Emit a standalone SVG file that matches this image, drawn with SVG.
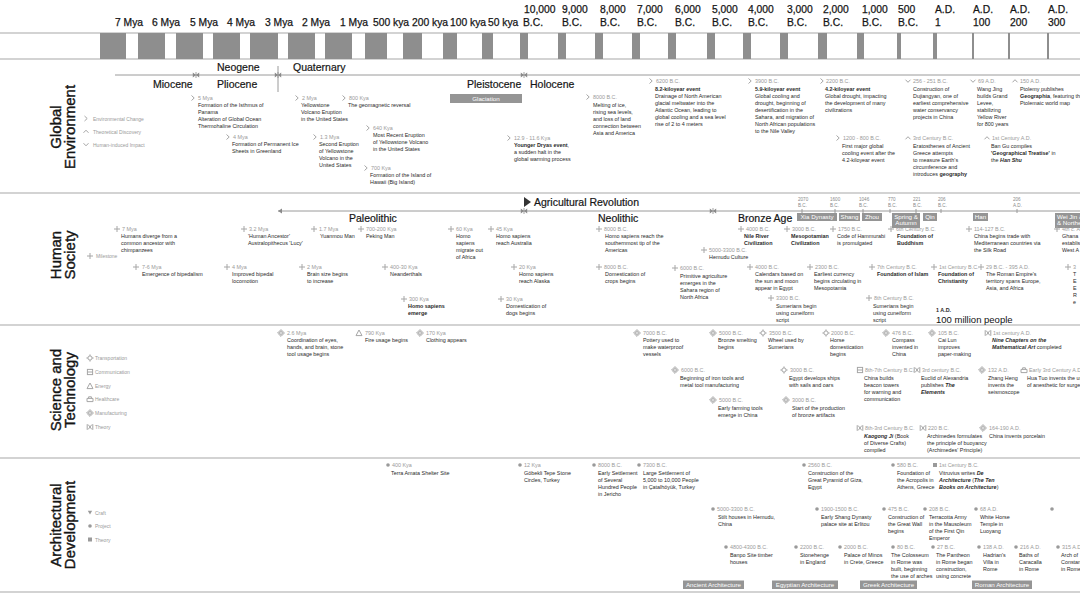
<svg xmlns="http://www.w3.org/2000/svg" xmlns:xlink="http://www.w3.org/1999/xlink" width="1080" height="608" viewBox="0 0 1080 608">
<style>
text{font-family:"Liberation Sans",Arial,sans-serif}
.tk{font-size:10.3px;fill:#151515;stroke:#151515;stroke-width:0.25}
.per{font-size:10.5px;fill:#151515;stroke:#151515;stroke-width:0.2}
.sec{font-size:15px;fill:#151515;stroke:#151515;stroke-width:0.4}
.lg{font-size:5px;fill:#9a9a9a}
.d{font-size:5.4px;fill:#9a9a9a}
.t{font-size:5.4px;fill:#2a2a2a}
.b{font-weight:bold}
.bi{font-weight:bold;font-style:italic}
.div{stroke:#c4c4c4;stroke-width:1.4}
.ln{stroke:#9a9a9a;stroke-width:1}
.box{fill:#959595}
.bx{font-size:6.2px;fill:#fff}
.sm{font-size:4.6px;fill:#8a8a8a}
.ic{fill:none;stroke:#a6a6a6;stroke-width:1}
</style>
<defs>
<path id="i-env" class="ic" d="M-1.5,-2.5 L1.2,0 L-1.5,2.5" stroke-width="1.2"/>
<path id="i-th" class="ic" d="M-2.5,1.3 L0,-1.3 L2.5,1.3" stroke-width="1.2"/>
<path id="i-hu" class="ic" d="M-2.5,-1.3 L0,1.3 L2.5,-1.3" stroke-width="1.2"/>
<path id="i-plus" class="ic" d="M-3,0 H3 M0,-3 V3" stroke-width="1.4"/>
<g id="i-tr" class="ic"><circle r="2.1"/><path d="M0,-3.6V-2.1M0,2.1V3.6M-3.6,0H-2.1M2.1,0H3.6"/></g>
<g id="i-co" class="ic"><rect x="-2.6" y="-2.6" width="5.2" height="5.2"/><path d="M-2.6,0H2.6"/></g>
<path id="i-en" class="ic" d="M0,-3 L3,2.6 H-3Z"/>
<path id="i-he" class="ic" d="M-3,-0.6 H3 V2.6 H-3Z M-1.4,-0.6 V-2.2 H1.4 V-0.6"/>
<g id="i-ma" class="ic"><path d="M0,-3.4 L3.4,0 L0,3.4 L-3.4,0Z"/><circle r="1.4"/></g>
<path id="i-st" class="ic" d="M-2.8,-2.8 V2.8 M2.8,-2.8 V2.8 M-1.8,-2.4 L1.8,2.4 M1.8,-2.4 L-1.8,2.4"/>
<path id="i-cr" d="M-2.2,-1.8 H2.2 L0,2Z" fill="#9a9a9a"/>
<circle id="i-pr" r="1.8" fill="#9a9a9a"/>
<rect id="i-at" x="-2" y="-2" width="4" height="4" fill="#9a9a9a"/>
<g id="bow" fill="#8a8a8a"><path d="M-3.2,-2.6 L0,0 L-3.2,2.6Z M3.2,-2.6 L0,0 L3.2,2.6Z"/><path d="M0,-3V3" stroke="#8a8a8a" stroke-width="0.8"/></g>
</defs>
<rect width="1080" height="608" fill="#fff"/>

<!-- timeline header -->
<g id="header">
<line x1="0" y1="33" x2="1080" y2="33" class="div"/>
<line x1="0" y1="59" x2="1080" y2="59" class="div"/>
<g fill="#8e8e8e">
<rect x="100" y="33" width="26" height="26"/><rect x="138" y="33" width="27" height="26"/><rect x="176" y="33" width="27" height="26"/><rect x="213" y="33" width="27" height="26"/><rect x="250" y="33" width="28" height="26"/><rect x="288" y="33" width="27" height="26"/><rect x="325" y="33" width="27" height="26"/><rect x="365" y="33" width="22" height="26"/><rect x="403" y="33" width="19" height="26"/><rect x="443" y="33" width="14" height="26"/><rect x="482" y="33" width="11" height="26"/><rect x="520" y="33" width="8" height="26"/><rect x="558" y="33" width="8" height="26"/><rect x="595" y="33" width="8" height="26"/><rect x="632" y="33" width="8" height="26"/><rect x="668" y="33" width="8" height="26"/><rect x="707" y="33" width="8" height="26"/><rect x="743" y="33" width="8" height="26"/><rect x="780" y="33" width="8" height="26"/><rect x="818" y="33" width="9" height="26"/><rect x="857" y="33" width="7" height="26"/><rect x="897" y="33" width="4" height="26"/><rect x="933" y="33" width="4" height="26"/><rect x="972" y="33" width="2" height="26"/><rect x="1008" y="33" width="2" height="26"/><rect x="1047" y="33" width="2" height="26"/>
</g>
<g class="tk">
<text x="115" y="26">7 Mya</text><text x="152" y="26">6 Mya</text><text x="190" y="26">5 Mya</text><text x="227" y="26">4 Mya</text><text x="265" y="26">3 Mya</text><text x="302" y="26">2 Mya</text><text x="340" y="26">1 Mya</text><text x="373" y="26">500 kya</text><text x="412" y="26">200 kya</text><text x="450" y="26">100 kya</text><text x="488" y="26">50 kya</text>
<text x="524" y="13">10,000</text><text x="523" y="26">B.C.</text>
<text x="562" y="13">9,000</text><text x="562" y="26">B.C.</text>
<text x="600" y="13">8,000</text><text x="600" y="26">B.C.</text>
<text x="637" y="13">7,000</text><text x="637" y="26">B.C.</text>
<text x="675" y="13">6,000</text><text x="675" y="26">B.C.</text>
<text x="712" y="13">5,000</text><text x="712" y="26">B.C.</text>
<text x="748" y="13">4,000</text><text x="748" y="26">B.C.</text>
<text x="787" y="13">3,000</text><text x="787" y="26">B.C.</text>
<text x="823" y="13">2,000</text><text x="823" y="26">B.C.</text>
<text x="862" y="13">1,000</text><text x="862" y="26">B.C.</text>
<text x="898" y="13">500</text><text x="898" y="26">B.C.</text>
<text x="935" y="13">A.D.</text><text x="935" y="26">1</text>
<text x="973" y="13">A.D.</text><text x="973" y="26">100</text>
<text x="1010" y="13">A.D.</text><text x="1010" y="26">200</text>
<text x="1048" y="13">A.D.</text><text x="1048" y="26">300</text>
</g>
</g>

<!-- section dividers -->
<g id="dividers">
<line x1="0" y1="193" x2="1080" y2="193" class="div"/>
<line x1="0" y1="325" x2="1080" y2="325" class="div"/>
<line x1="0" y1="458" x2="1080" y2="458" class="div"/>
<line x1="0" y1="592" x2="1080" y2="592" class="div"/>
</g>

<!-- connectors / period lines -->
<g id="connectors">
<line x1="115" y1="75" x2="1080" y2="75" class="ln"/>
<line x1="278" y1="66" x2="278" y2="92" class="ln"/>
<use href="#bow" x="196" y="75"/>
<use href="#bow" x="278" y="75"/>
<use href="#bow" x="524" y="75"/>
<line x1="278" y1="211" x2="1080" y2="211" class="ln"/>
<path d="M278,211 l4,-2.5 v5z" fill="#8a8a8a"/>
<use href="#bow" x="524" y="211"/>
<use href="#bow" x="713" y="211"/>
<path d="M524,197 v10 l7,-5z" fill="#333"/>
<g class="ln"><line x1="802" y1="209" x2="802" y2="213"/><line x1="835" y1="209" x2="835" y2="213"/><line x1="863" y1="209" x2="863" y2="213"/><line x1="890" y1="209" x2="890" y2="213"/><line x1="916" y1="209" x2="916" y2="213"/><line x1="941" y1="209" x2="941" y2="213"/><line x1="1017" y1="209" x2="1017" y2="213"/></g>
</g>

<!-- periods -->
<g id="periods">
<text class="per" x="217" y="71">Neogene</text>
<text class="per" x="293" y="71">Quaternary</text>
<text class="per" x="153" y="88">Miocene</text>
<text class="per" x="217" y="88">Pliocene</text>
<text class="per" x="467" y="88">Pleistocene</text>
<text class="per" x="530" y="88">Holocene</text>
<rect class="box" x="450" y="94" width="72" height="9"/>
<text class="bx" x="486" y="100.8" text-anchor="middle" font-size="6.5">Glaciation</text>
<text class="per" x="534" y="206" font-size="11px">Agricultural Revolution</text>
<text class="per" x="349" y="222">Paleolithic</text>
<text class="per" x="598" y="222">Neolithic</text>
<text class="per" x="738" y="222">Bronze Age</text>
</g>

<!-- dynasty timeline -->
<g id="dynasties">
<g class="sm">
<text x="798" y="201">2070</text><text x="798" y="206.5">B.C.</text>
<text x="830" y="201">1600</text><text x="830" y="206.5">B.C.</text>
<text x="859" y="201">1046</text><text x="859" y="206.5">B.C.</text>
<text x="888" y="201">770</text><text x="888" y="206.5">B.C.</text>
<text x="913" y="201">221</text><text x="913" y="206.5">B.C.</text>
<text x="938" y="201">206</text><text x="938" y="206.5">B.C.</text>
<text x="1013" y="201">206</text><text x="1013" y="206.5">A.D.</text>
</g>
<rect class="box" x="797" y="213" width="40" height="8"/><text class="bx" x="817" y="219.3" text-anchor="middle">Xia Dynasty</text>
<rect class="box" x="839" y="213" width="21" height="8"/><text class="bx" x="849.5" y="219.3" text-anchor="middle">Shang</text>
<rect class="box" x="862" y="213" width="20" height="8"/><text class="bx" x="872" y="219.3" text-anchor="middle">Zhou</text>
<rect class="box" x="892" y="213" width="28" height="15"/><text class="bx" x="906" y="219" text-anchor="middle" font-size="5px">Spring &amp;</text><text class="bx" x="906" y="225" text-anchor="middle" font-size="5px">Autumn</text>
<rect class="box" x="923" y="213" width="14" height="8"/><text class="bx" x="930" y="219.3" text-anchor="middle">Qin</text>
<rect class="box" x="973" y="213" width="15" height="8"/><text class="bx" x="980.5" y="219.3" text-anchor="middle">Han</text>
<rect class="box" x="1055" y="213" width="30" height="15"/><text class="bx" x="1057" y="219" font-size="5px">Wei Jin &amp; N</text><text class="bx" x="1057" y="225" font-size="5px">&amp; Northern</text>
</g>

<!-- section titles -->
<g id="titles">
<text class="sec" transform="translate(61,127) rotate(-90)" text-anchor="middle">Global</text>
<text class="sec" transform="translate(75,127) rotate(-90)" text-anchor="middle">Environment</text>
<text class="sec" transform="translate(61,255) rotate(-90)" text-anchor="middle">Human</text>
<text class="sec" transform="translate(75,255) rotate(-90)" text-anchor="middle">Society</text>
<text class="sec" transform="translate(61,390) rotate(-90)" text-anchor="middle">Science and</text>
<text class="sec" transform="translate(75,390) rotate(-90)" text-anchor="middle">Technology</text>
<text class="sec" transform="translate(61,525) rotate(-90)" text-anchor="middle">Architectural</text>
<text class="sec" transform="translate(75,525) rotate(-90)" text-anchor="middle">Development</text>
</g>

<!-- legends -->
<g id="legends">
<use href="#i-env" x="86" y="118.5"/><text class="lg" x="93" y="120.5">Environmental Change</text>
<use href="#i-th" x="86" y="131.5"/><text class="lg" x="93" y="133.5">Theoretical Discovery</text>
<use href="#i-hu" x="86" y="144.5"/><text class="lg" x="93" y="146.5">Human-induced Impact</text>
<use href="#i-plus" x="90" y="256"/><text class="lg" x="96" y="258">Milestone</text>
<use href="#i-tr" x="90" y="358"/><text class="lg" x="95" y="360">Transportation</text>
<use href="#i-co" x="90" y="372"/><text class="lg" x="95" y="374">Communication</text>
<use href="#i-en" x="90" y="386"/><text class="lg" x="95" y="388">Energy</text>
<use href="#i-he" x="90" y="399"/><text class="lg" x="95" y="401">Healthcare</text>
<use href="#i-ma" x="90" y="413"/><text class="lg" x="95" y="415">Manufacturing</text>
<use href="#i-st" x="90" y="427"/><text class="lg" x="95" y="429">Theory</text>
<use href="#i-cr" x="90" y="512.5"/><text class="lg" x="95" y="514.5">Craft</text>
<use href="#i-pr" x="90" y="526"/><text class="lg" x="95" y="528">Project</text>
<use href="#i-at" x="90" y="539.5"/><text class="lg" x="95" y="541.5">Theory</text>
</g>

<!-- Global Environment events -->
<g id="env-5mya"><use href="#i-env" x="193" y="98"/><text class="d" x="198" y="100">5 Mya</text><text class="t" x="198" y="107">Formation of the Isthmus of<tspan x="198" dy="7">Panama</tspan><tspan x="198" dy="7">Alteration of Global Ocean</tspan><tspan x="198" dy="7">Thermohaline Circulation</tspan></text></g>
<g id="env-4mya"><use href="#i-env" x="228" y="137"/><text class="d" x="233" y="139">4 Mya</text><text class="t" x="232" y="146">Formation of Permanent Ice<tspan x="232" dy="7">Sheets in Greenland</tspan></text></g>
<g id="env-2mya"><use href="#i-env" x="297" y="98"/><text class="d" x="302" y="100">2 Mya</text><text class="t" x="301" y="107">Yellowstone<tspan x="301" dy="7">Volcano Eruption</tspan><tspan x="301" dy="7">in the United States</tspan></text></g>
<g id="env-800k"><use href="#i-env" x="344" y="98"/><text class="d" x="349" y="100">800 Kya</text><text class="t" x="348" y="107">The geomagnetic reversal</text></g>
<g id="env-13m"><use href="#i-env" x="315" y="137"/><text class="d" x="320" y="139">1.3 Mya</text><text class="t" x="319" y="146">Second Eruption<tspan x="319" dy="7">of Yellowstone</tspan><tspan x="319" dy="7">Volcano in the</tspan><tspan x="319" dy="7">United States</tspan></text></g>
<g id="env-640k"><use href="#i-env" x="368" y="128"/><text class="d" x="373" y="130">640 Kya</text><text class="t" x="373" y="137">Most Recent Eruption<tspan x="373" dy="7">of Yellowstone Volcano</tspan><tspan x="373" dy="7">in the United States</tspan></text></g>
<g id="env-700k"><use href="#i-env" x="366" y="168"/><text class="d" x="371" y="170">700 Kya</text><text class="t" x="370" y="177">Formation of the Island of<tspan x="370" dy="7">Hawaii (Big Island)</tspan></text></g>
<g id="env-129k"><use href="#i-env" x="509" y="138"/><text class="d" x="514" y="140">12.9 - 11.6 Kya</text><text class="t" x="514" y="147"><tspan class="b">Younger Dryas event</tspan>,<tspan x="514" dy="7">a sudden halt in the</tspan><tspan x="514" dy="7">global warming process</tspan></text></g>
<g id="env-8000bc"><use href="#i-env" x="588" y="97"/><text class="d" x="593" y="99">8000 B.C.</text><text class="t" x="593" y="107">Melting of ice,<tspan x="593" dy="7">rising sea levels,</tspan><tspan x="593" dy="7">and loss of land</tspan><tspan x="593" dy="7">connection between</tspan><tspan x="593" dy="7">Asia and America</tspan></text></g>
<g id="env-6200bc"><use href="#i-env" x="651" y="81"/><text class="d" x="656" y="83">6200 B.C.</text><text class="t" x="655" y="91"><tspan class="b">8.2-kiloyear event</tspan><tspan x="655" dy="7">Drainage of North American</tspan><tspan x="655" dy="7">glacial meltwater into the</tspan><tspan x="655" dy="7">Atlantic Ocean, leading to</tspan><tspan x="655" dy="7">global cooling and a sea level</tspan><tspan x="655" dy="7">rise of 2 to 4 meters</tspan></text></g>
<g id="env-3900bc"><use href="#i-env" x="750" y="81"/><text class="d" x="755" y="83">3900 B.C.</text><text class="t" x="755" y="91"><tspan class="b">5.9-kiloyear event</tspan><tspan x="755" dy="7">Global cooling and</tspan><tspan x="755" dy="7">drought, beginning of</tspan><tspan x="755" dy="7">desertification in the</tspan><tspan x="755" dy="7">Sahara, and migration of</tspan><tspan x="755" dy="7">North African populations</tspan><tspan x="755" dy="7">to the Nile Valley</tspan></text></g>
<g id="env-2200bc"><use href="#i-env" x="822" y="81"/><text class="d" x="826" y="83">2200 B.C.</text><text class="t" x="825" y="91"><tspan class="b">4.2-kiloyear event</tspan><tspan x="825" dy="7">Global drought, impacting</tspan><tspan x="825" dy="7">the development of many</tspan><tspan x="825" dy="7">civilizations</tspan></text></g>
<g id="env-1200bc"><use href="#i-env" x="838" y="138"/><text class="d" x="843" y="140">1200 - 800 B.C.</text><text class="t" x="842" y="148">First major global<tspan x="842" dy="7">cooling event after the</tspan><tspan x="842" dy="7">4.2-kiloyear event</tspan></text></g>
<g id="env-256bc"><use href="#i-hu" x="908" y="81"/><text class="d" x="913" y="83">256 - 251 B.C.</text><text class="t" x="913" y="91">Construction of<tspan x="913" dy="7">Dujiangyan, one of</tspan><tspan x="913" dy="7">earliest comprehensive</tspan><tspan x="913" dy="7">water conservancy</tspan><tspan x="913" dy="7">projects in China</tspan></text></g>
<g id="env-3rdbc"><use href="#i-th" x="908" y="138"/><text class="d" x="913" y="140">3rd Century B.C.</text><text class="t" x="913" y="148">Eratosthenes of Ancient<tspan x="913" dy="7">Greece attempts</tspan><tspan x="913" dy="7">to measure Earth's</tspan><tspan x="913" dy="7">circumference and</tspan><tspan x="913" dy="7">introduces <tspan class="b">geography</tspan></tspan></text></g>
<g id="env-69ad"><use href="#i-hu" x="973" y="81"/><text class="d" x="978" y="83">69 A.D.</text><text class="t" x="977" y="91">Wang Jing<tspan x="977" dy="7">builds Grand</tspan><tspan x="977" dy="7">Levee,</tspan><tspan x="977" dy="7">stabilizing</tspan><tspan x="977" dy="7">Yellow River</tspan><tspan x="977" dy="7">for 800 years</tspan></text></g>
<g id="env-150ad"><use href="#i-th" x="1015" y="81"/><text class="d" x="1020" y="83">150 A.D.</text><text class="t" x="1020" y="91">Ptolemy publishes<tspan x="1020" dy="7"><tspan class="b">Geographia</tspan>, featuring the</tspan><tspan x="1020" dy="7">Ptolemaic world map</tspan></text></g>
<g id="env-1stad"><use href="#i-th" x="987" y="138"/><text class="d" x="992" y="140">1st Century A.D.</text><text class="t" x="991" y="148">Ban Gu compiles<tspan x="991" dy="7"><tspan class="b">'Geographical Treatise'</tspan> in</tspan><tspan x="991" dy="7">the <tspan class="bi">Han Shu</tspan></tspan></text></g>

<!-- Human Society events -->
<g id="hs-7mya"><use href="#i-plus" x="117" y="229"/><text class="d" x="122" y="231">7 Mya</text><text class="t" x="121" y="238">Humans diverge from a<tspan x="121" dy="7">common ancestor with</tspan><tspan x="121" dy="7">chimpanzees</tspan></text></g>
<g id="hs-76mya"><use href="#i-plus" x="136" y="267"/><text class="d" x="142" y="269">7-6 Mya</text><text class="t" x="142" y="276">Emergence of bipedalism</text></g>
<g id="hs-32mya"><use href="#i-plus" x="244" y="229"/><text class="d" x="249" y="231">3.2 Mya</text><text class="t" x="248" y="238">'Human Ancestor'<tspan x="248" dy="7">Australopithecus 'Lucy'</tspan></text></g>
<g id="hs-4mya"><use href="#i-plus" x="227" y="267"/><text class="d" x="232" y="269">4 Mya</text><text class="t" x="232" y="276">Improved bipedal<tspan x="232" dy="7">locomotion</tspan></text></g>
<g id="hs-17mya"><use href="#i-plus" x="314" y="229"/><text class="d" x="319" y="231">1.7 Mya</text><text class="t" x="320" y="238">Yuanmou Man</text></g>
<g id="hs-700k"><use href="#i-plus" x="361" y="229"/><text class="d" x="366" y="231">700-200 Kya</text><text class="t" x="366" y="238">Peking Man</text></g>
<g id="hs-2mya"><use href="#i-plus" x="302" y="267"/><text class="d" x="307" y="269">2 Mya</text><text class="t" x="307" y="276">Brain size begins<tspan x="307" dy="7">to increase</tspan></text></g>
<g id="hs-400k"><use href="#i-plus" x="385" y="267"/><text class="d" x="390" y="269">400-30 Kya</text><text class="t" x="390" y="276">Neanderthals</text></g>
<g id="hs-300k"><use href="#i-plus" x="404" y="299"/><text class="d" x="409" y="301">300 Kya</text><text class="t b" x="408" y="308">Homo sapiens<tspan x="408" dy="7">emerge</tspan></text></g>
<g id="hs-60k"><use href="#i-plus" x="451" y="229"/><text class="d" x="456" y="231">60 Kya</text><text class="t" x="456" y="238">Homo<tspan x="456" dy="7">sapiens</tspan><tspan x="456" dy="7">migrate out</tspan><tspan x="456" dy="7">of Africa</tspan></text></g>
<g id="hs-45k"><use href="#i-plus" x="491" y="229"/><text class="d" x="496" y="231">45 Kya</text><text class="t" x="496" y="238">Homo sapiens<tspan x="496" dy="7">reach Australia</tspan></text></g>
<g id="hs-20k"><use href="#i-plus" x="514" y="267"/><text class="d" x="519" y="269">20 Kya</text><text class="t" x="519" y="276">Homo sapiens<tspan x="519" dy="7">reach Alaska</tspan></text></g>
<g id="hs-30k"><use href="#i-plus" x="501" y="299"/><text class="d" x="506" y="301">30 Kya</text><text class="t" x="506" y="308">Domestication of<tspan x="506" dy="7">dogs begins</tspan></text></g>
<g id="hs-8000a"><use href="#i-plus" x="599" y="229"/><text class="d" x="604" y="231">8000 B.C.</text><text class="t" x="605" y="238">Homo sapiens reach the<tspan x="605" dy="7">southernmost tip of the</tspan><tspan x="605" dy="7">Americas</tspan></text></g>
<g id="hs-8000b"><use href="#i-plus" x="599" y="267"/><text class="d" x="604" y="269">8000 B.C.</text><text class="t" x="605" y="276">Domestication of<tspan x="605" dy="7">crops begins</tspan></text></g>
<g id="hs-6000"><use href="#i-plus" x="675" y="268"/><text class="d" x="680" y="270">6000 B.C.</text><text class="t" x="680" y="278">Primitive agriculture<tspan x="680" dy="7">emerges in the</tspan><tspan x="680" dy="7">Sahara region of</tspan><tspan x="680" dy="7">North Africa</tspan></text></g>
<g id="hs-5000"><use href="#i-plus" x="704" y="250"/><text class="d" x="709" y="252">5000-3300 B.C.</text><text class="t" x="709" y="259">Hemudu Culture</text></g>
<g id="hs-4000a"><use href="#i-plus" x="741" y="229"/><text class="d" x="746" y="231">4000 B.C.</text><text class="t b" x="744" y="238">Nile River<tspan x="744" dy="7">Civilization</tspan></text></g>
<g id="hs-3000"><use href="#i-plus" x="787" y="229"/><text class="d" x="792" y="231">3000 B.C.</text><text class="t b" x="791" y="238">Mesopotamian<tspan x="791" dy="7">Civilization</tspan></text></g>
<g id="hs-4000b"><use href="#i-plus" x="750" y="267"/><text class="d" x="755" y="269">4000 B.C.</text><text class="t" x="755" y="276">Calendars based on<tspan x="755" dy="7">the sun and moon</tspan><tspan x="755" dy="7">appear in Egypt</tspan></text></g>
<g id="hs-3300"><use href="#i-plus" x="771" y="298"/><text class="d" x="776" y="300">3300 B.C.</text><text class="t" x="776" y="308">Sumerians begin<tspan x="776" dy="7">using cuneiform</tspan><tspan x="776" dy="7">script</tspan></text></g>
<g id="hs-1750"><use href="#i-plus" x="833" y="229"/><text class="d" x="838" y="231">1750 B.C.</text><text class="t" x="837" y="238">Code of Hammurabi<tspan x="837" dy="7">is promulgated</tspan></text></g>
<g id="hs-2300"><use href="#i-plus" x="810" y="267"/><text class="d" x="815" y="269">2300 B.C.</text><text class="t" x="814" y="276">Earliest currency<tspan x="814" dy="7">begins circulating in</tspan><tspan x="814" dy="7">Mesopotamia</tspan></text></g>
<g id="hs-6thbc"><use href="#i-plus" x="891" y="229"/><text class="d" x="896" y="231">6th Century B.C.</text><text class="t b" x="897" y="238">Foundation of<tspan x="897" dy="7">Buddhism</tspan></text></g>
<g id="hs-7thbc"><use href="#i-plus" x="872" y="267"/><text class="d" x="877" y="269">7th Century B.C.</text><text class="t b" x="877" y="276">Foundation of Islam</text></g>
<g id="hs-8thbc"><use href="#i-plus" x="869" y="298"/><text class="d" x="874" y="300">8th Century B.C.</text><text class="t" x="873" y="308">Sumerians begin<tspan x="873" dy="7">using cuneiform</tspan><tspan x="873" dy="7">script</tspan></text></g>
<g id="hs-114bc"><use href="#i-plus" x="969" y="229"/><text class="d" x="974" y="231">114-127 B.C.</text><text class="t" x="974" y="238">China begins trade with<tspan x="974" dy="7">Mediterranean countries via</tspan><tspan x="974" dy="7">the Silk Road</tspan></text></g>
<g id="hs-1stbc"><use href="#i-plus" x="934" y="267"/><text class="d" x="939" y="269">1st Century B.C.</text><text class="t b" x="938" y="276">Foundation of<tspan x="938" dy="7">Christianity</tspan></text></g>
<g id="hs-29bc"><use href="#i-plus" x="981" y="267"/><text class="d" x="986" y="269">29 B.C. - 395 A.D.</text><text class="t" x="986" y="276">The Roman Empire's<tspan x="986" dy="7">territory spans Europe,</tspan><tspan x="986" dy="7">Asia, and Africa</tspan></text></g>
<g id="hs-4thad"><use href="#i-plus" x="1057" y="229"/><text class="d" x="1062" y="231">4th c. A.D.</text><text class="t" x="1062" y="238">Ghana<tspan x="1062" dy="7">establis</tspan><tspan x="1062" dy="7">West A</tspan></text></g>
<g id="hs-3rdad"><use href="#i-plus" x="1068" y="267"/><text class="d" x="1073" y="269">3</text><text class="t" x="1073" y="276">T<tspan x="1073" dy="7">E</tspan><tspan x="1073" dy="7">E</tspan><tspan x="1073" dy="7">R</tspan><tspan x="1073" dy="7">e</tspan></text></g>
<g id="hs-pop"><text class="t b" x="936" y="312" font-size="7.5px" fill="#111">1 A.D.</text><text x="936" y="323" font-size="9.5px" fill="#111">100 million people</text></g>

<!-- Science and Technology events -->
<g id="st-26mya"><use href="#i-ma" x="281" y="333"/><text class="d" x="287" y="335">2.6 Mya</text><text class="t" x="287" y="342">Coordination of eyes,<tspan x="287" dy="7">hands, and brain, stone</tspan><tspan x="287" dy="7">tool usage begins</tspan></text></g>
<g id="st-790k"><use href="#i-en" x="359" y="333"/><text class="d" x="365" y="335">790 Kya</text><text class="t" x="365" y="342">Fire usage begins</text></g>
<g id="st-170k"><use href="#i-ma" x="420" y="333"/><text class="d" x="426" y="335">170 Kya</text><text class="t" x="426" y="342">Clothing appears</text></g>
<g id="st-7000"><use href="#i-ma" x="637" y="333"/><text class="d" x="643" y="335">7000 B.C.</text><text class="t" x="643" y="342">Pottery used to<tspan x="643" dy="7">make waterproof</tspan><tspan x="643" dy="7">vessels</tspan></text></g>
<g id="st-6000"><use href="#i-ma" x="675" y="370"/><text class="d" x="681" y="372">6000 B.C.</text><text class="t" x="680" y="380">Beginning of iron tools and<tspan x="680" dy="7">metal tool manufacturing</tspan></text></g>
<g id="st-5000a"><use href="#i-ma" x="713" y="333"/><text class="d" x="719" y="335">5000 B.C.</text><text class="t" x="718" y="342">Bronze smelting<tspan x="718" dy="7">begins</tspan></text></g>
<g id="st-3500"><use href="#i-tr" x="763" y="333"/><text class="d" x="769" y="335">3500 B.C.</text><text class="t" x="768" y="342">Wheel used by<tspan x="768" dy="7">Sumerians</tspan></text></g>
<g id="st-5000b"><use href="#i-ma" x="713" y="400"/><text class="d" x="719" y="402">5000 B.C.</text><text class="t" x="718" y="410">Early farming tools<tspan x="718" dy="7">emerge in China</tspan></text></g>
<g id="st-3000a"><use href="#i-tr" x="784" y="370"/><text class="d" x="790" y="372">3000 B.C.</text><text class="t" x="789" y="380">Egypt develops ships<tspan x="789" dy="7">with sails and oars</tspan></text></g>
<g id="st-3000b"><use href="#i-ma" x="786" y="400"/><text class="d" x="792" y="402">3000 B.C.</text><text class="t" x="792" y="410">Start of the production<tspan x="792" dy="7">of bronze artifacts</tspan></text></g>
<g id="st-2000"><use href="#i-tr" x="826" y="333"/><text class="d" x="831" y="335">2000 B.C.</text><text class="t" x="830" y="342">Horse<tspan x="830" dy="7">domestication</tspan><tspan x="830" dy="7">begins</tspan></text></g>
<g id="st-476"><use href="#i-ma" x="886" y="333"/><text class="d" x="892" y="335">476 B.C.</text><text class="t" x="892" y="342">Compass<tspan x="892" dy="7">invented in</tspan><tspan x="892" dy="7">China</tspan></text></g>
<g id="st-105"><use href="#i-ma" x="932" y="333"/><text class="d" x="938" y="335">105 B.C.</text><text class="t" x="938" y="342">Cai Lun<tspan x="938" dy="7">improves</tspan><tspan x="938" dy="7">paper-making</tspan></text></g>
<g id="st-1stad"><use href="#i-st" x="988" y="333"/><text class="d" x="993" y="335">1st century A.D.</text><text class="t" x="992" y="342"><tspan class="bi">Nine Chapters on the</tspan><tspan x="992" dy="7"><tspan class="bi">Mathematical Art</tspan> completed</tspan></text></g>
<g id="st-8th7th"><use href="#i-co" x="860" y="370"/><text class="d" x="865" y="372">8th-7th Century B.C.</text><text class="t" x="864" y="380">China builds<tspan x="864" dy="7">beacon towers</tspan><tspan x="864" dy="7">for warning and</tspan><tspan x="864" dy="7">communication</tspan></text></g>
<g id="st-3rdbc"><use href="#i-st" x="917" y="370"/><text class="d" x="922" y="372">3rd century B.C.</text><text class="t" x="921" y="380">Euclid of Alexandria<tspan x="921" dy="7">publishes <tspan class="bi">The</tspan></tspan><tspan x="921" dy="7" class="bi">Elements</tspan></text></g>
<g id="st-132ad"><use href="#i-ma" x="982" y="370"/><text class="d" x="988" y="372">132 A.D.</text><text class="t" x="988" y="380">Zhang Heng<tspan x="988" dy="7">invents the</tspan><tspan x="988" dy="7">seismoscope</tspan></text></g>
<g id="st-3rdad"><use href="#i-he" x="1024" y="370"/><text class="d" x="1029" y="372">Early 3rd Century A.D.</text><text class="t" x="1027" y="380">Hua Tuo invents the use<tspan x="1027" dy="7">of anesthetic for surgery</tspan></text></g>
<g id="st-8th3rd"><use href="#i-st" x="860" y="428"/><text class="d" x="865" y="430">8th-3rd Century B.C.</text><text class="t" x="864" y="438"><tspan class="bi">Kaogong Ji</tspan> (Book<tspan x="864" dy="7">of Diverse Crafts)</tspan><tspan x="864" dy="7">compiled</tspan></text></g>
<g id="st-220bc"><use href="#i-st" x="923" y="428"/><text class="d" x="928" y="430">220 B.C.</text><text class="t" x="927" y="438">Archimedes formulates<tspan x="927" dy="7">the principle of buoyancy</tspan><tspan x="927" dy="7">(Archimedes' Principle)</tspan></text></g>
<g id="st-164ad"><use href="#i-ma" x="983" y="428"/><text class="d" x="989" y="430">164-190 A.D.</text><text class="t" x="989" y="438">China invents porcelain</text></g>

<!-- Architectural Development events -->
<g id="ar-400k"><use href="#i-pr" x="388" y="465"/><text class="d" x="392" y="467">400 Kya</text><text class="t" x="391" y="475">Terra Amata Shelter Site</text></g>
<g id="ar-12k"><use href="#i-pr" x="520" y="465"/><text class="d" x="524" y="467">12 Kya</text><text class="t" x="524" y="475">Göbekli Tepe Stone<tspan x="524" dy="7">Circles, Turkey</tspan></text></g>
<g id="ar-8000"><use href="#i-pr" x="594" y="465"/><text class="d" x="598" y="467">8000 B.C.</text><text class="t" x="598" y="475">Early Settlement<tspan x="598" dy="7">of Several</tspan><tspan x="598" dy="7">Hundred People</tspan><tspan x="598" dy="7">in Jericho</tspan></text></g>
<g id="ar-7300"><use href="#i-pr" x="639" y="465"/><text class="d" x="643" y="467">7300 B.C.</text><text class="t" x="643" y="475">Large Settlement of<tspan x="643" dy="7">5,000 to 10,000 People</tspan><tspan x="643" dy="7">in Çatalhöyük, Turkey</tspan></text></g>
<g id="ar-5000"><use href="#i-pr" x="713" y="509"/><text class="d" x="717" y="511">5000-3300 B.C.</text><text class="t" x="718" y="519">Stilt houses in Hemudu,<tspan x="718" dy="7">China</tspan></text></g>
<g id="ar-4800"><use href="#i-pr" x="726" y="547"/><text class="d" x="730" y="549">4800-4300 B.C.</text><text class="t" x="730" y="557">Banpo Site timber<tspan x="730" dy="7">houses</tspan></text></g>
<g id="ar-2560"><use href="#i-pr" x="804" y="465"/><text class="d" x="808" y="467">2560 B.C.</text><text class="t" x="808" y="475">Construction of the<tspan x="808" dy="7">Great Pyramid of Giza,</tspan><tspan x="808" dy="7">Egypt</tspan></text></g>
<g id="ar-2200"><use href="#i-pr" x="796" y="547"/><text class="d" x="800" y="549">2200 B.C.</text><text class="t" x="800" y="557">Stonehenge<tspan x="800" dy="7">in England</tspan></text></g>
<g id="ar-1900"><use href="#i-pr" x="817" y="509"/><text class="d" x="821" y="511">1900-1500 B.C.</text><text class="t" x="821" y="519">Early Shang Dynasty<tspan x="821" dy="7">palace site at Erlitou</tspan></text></g>
<g id="ar-2000"><use href="#i-pr" x="840" y="547"/><text class="d" x="844" y="549">2000 B.C.</text><text class="t" x="844" y="557">Palace of Minos<tspan x="844" dy="7">in Crete, Greece</tspan></text></g>
<g id="ar-580"><use href="#i-pr" x="893" y="465"/><text class="d" x="897" y="467">580 B.C.</text><text class="t" x="897" y="475">Foundation of<tspan x="897" dy="7">the Acropolis in</tspan><tspan x="897" dy="7">Athens, Greece</tspan></text></g>
<g id="ar-1stbc"><use href="#i-at" x="935" y="465"/><text class="d" x="939" y="467">1st Century B.C.</text><text class="t" x="939" y="475">Vitruvius writes <tspan class="bi">De</tspan><tspan x="939" dy="7"><tspan class="bi">Architecture</tspan> (<tspan class="bi">The Ten</tspan></tspan><tspan x="939" dy="7"><tspan class="bi">Books on Architecture</tspan>)</tspan></text></g>
<g id="ar-475"><use href="#i-pr" x="884" y="509"/><text class="d" x="888" y="511">475 B.C.</text><text class="t" x="888" y="519">Construction of<tspan x="888" dy="7">the Great Wall</tspan><tspan x="888" dy="7">begins</tspan></text></g>
<g id="ar-208"><use href="#i-pr" x="925" y="509"/><text class="d" x="929" y="511">208 B.C.</text><text class="t" x="929" y="519">Terracotta Army<tspan x="929" dy="7">in the Mausoleum</tspan><tspan x="929" dy="7">of the First Qin</tspan><tspan x="929" dy="7">Emperor</tspan></text></g>
<g id="ar-68"><use href="#i-pr" x="976" y="509"/><text class="d" x="980" y="511">68 A.D.</text><text class="t" x="980" y="519">White Horse<tspan x="980" dy="7">Temple in</tspan><tspan x="980" dy="7">Luoyang</tspan></text></g>
<g id="ar-dot"><use href="#i-pr" x="1052" y="509"/></g>
<g id="ar-80"><use href="#i-pr" x="893" y="547"/><text class="d" x="897" y="549">80 B.C.</text><text class="t" x="891" y="557">The Colosseum<tspan x="891" dy="7">in Rome was</tspan><tspan x="891" dy="7">built, beginning</tspan><tspan x="891" dy="7">the use of arches</tspan></text></g>
<g id="ar-27"><use href="#i-pr" x="933" y="547"/><text class="d" x="937" y="549">27 B.C.</text><text class="t" x="936" y="557">The Pantheon<tspan x="936" dy="7">in Rome began</tspan><tspan x="936" dy="7">construction,</tspan><tspan x="936" dy="7">using concrete</tspan></text></g>
<g id="ar-138"><use href="#i-pr" x="979" y="547"/><text class="d" x="983" y="549">138 A.D.</text><text class="t" x="983" y="557">Hadrian's<tspan x="983" dy="7">Villa in</tspan><tspan x="983" dy="7">Rome</tspan></text></g>
<g id="ar-216"><use href="#i-pr" x="1016" y="547"/><text class="d" x="1020" y="549">216 A.D.</text><text class="t" x="1019" y="557">Baths of<tspan x="1019" dy="7">Caracalla</tspan><tspan x="1019" dy="7">in Rome</tspan></text></g>
<g id="ar-315"><use href="#i-pr" x="1058" y="547"/><text class="d" x="1062" y="549">315 A.D.</text><text class="t" x="1061" y="557">Arch of<tspan x="1061" dy="7">Constantine</tspan><tspan x="1061" dy="7">in Rome</tspan></text></g>

<!-- architecture eras -->
<g id="eras">
<rect class="box" x="683" y="580.5" width="61" height="8.5"/><text class="bx" x="713.5" y="587" text-anchor="middle">Ancient Architecture</text>
<rect class="box" x="772" y="580.5" width="66" height="8.5"/><text class="bx" x="805" y="587" text-anchor="middle">Egyptian Architecture</text>
<rect class="box" x="860" y="580.5" width="57" height="8.5"/><text class="bx" x="888.5" y="587" text-anchor="middle">Greek Architecture</text>
<rect class="box" x="972" y="580.5" width="60" height="8.5"/><text class="bx" x="1002" y="587" text-anchor="middle">Roman Architecture</text>
</g>
</svg>
